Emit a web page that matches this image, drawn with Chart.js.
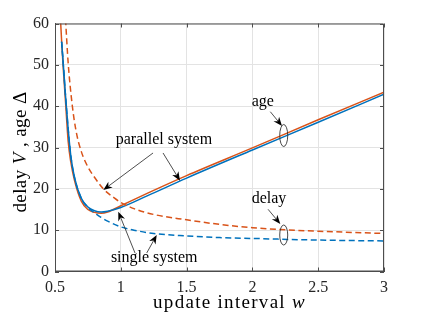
<!DOCTYPE html>
<html><head><meta charset="utf-8">
<script src="https://cdn.jsdelivr.net/npm/chart.js@4/dist/chart.umd.min.js"></script>
<style>html,body{margin:0;padding:0;background:#fff;}#wrap{width:424px;height:318px;}</style>
</head><body><div id="wrap"><canvas id="c" width="424" height="318"></canvas></div>
<script>
// ---- data ----
const xTicks = [0.5, 1, 1.5, 2, 2.5, 3];
const yTicks = [0, 10, 20, 30, 40, 50, 60];

const wAgeSingle = [0.55,0.56,0.58,0.60,0.62,0.65,0.70,0.75,0.80,0.85,0.90,1.00,1.20,1.50,2.00,2.50,3.00];
const ageSingle  = [55.6,51.5,42.5,34.5,28.0,22.5,17.7,15.6,14.7,14.4,14.6,15.5,18.3,22.6,29.4,36.1,42.9];

const wAgeParallel = [0.54,0.55,0.56,0.58,0.60,0.62,0.65,0.70,0.75,0.80,0.85,0.90,1.00,1.20,1.50,2.00,2.50,3.00];
const ageParallel  = [62.0,56.0,50.5,41.0,31.5,26.5,21.8,17.0,15.0,14.3,14.1,14.4,15.9,18.9,23.2,29.9,36.7,43.4];

const wDelaySingle = [0.55,0.56,0.58,0.60,0.62,0.65,0.70,0.75,0.80,0.85,0.90,1.00,1.10,1.25,1.50,1.75,2.00,2.50,3.00];
const delaySingle  = [55.6,51.5,42.5,34.5,28.0,22.5,17.7,15.5,14.2,13.1,12.2,10.8,10.0,9.2,8.6,8.2,8.0,7.6,7.4];

const wDelayParallel = [0.58,0.60,0.63,0.66,0.70,0.75,0.80,0.87,0.95,1.00,1.10,1.25,1.50,1.75,2.00,2.25,2.50,3.00];
const delayParallel  = [61.0,50.5,40.5,34.0,29.0,25.3,22.8,19.9,17.8,16.7,15.2,13.8,12.5,11.4,10.6,10.1,9.75,9.2];

// annotations (data coordinates)
const labels = [
  {text: 'parallel system', w: 1.328, v: 30.85},
  {text: 'single system',   w: 1.254, v: 2.2},
  {text: 'age',             w: 2.079, v: 40.0},
  {text: 'delay',           w: 2.126, v: 16.5}
];
const arrows = [
  {from: [1.245, 28.67], to: [0.867, 19.72]},
  {from: [1.321, 28.67], to: [1.450, 21.97]},
  {from: [1.108, 4.48],  to: [0.981, 14.47]},
  {from: [1.197, 4.48],  to: [1.273, 8.83]},
  {from: [2.136, 38.66], to: [2.225, 35.2]},
  {from: [2.119, 15.05], to: [2.212, 11.5]}
];
const ellipses = [
  {w: 2.238, v: 32.9, rx: 4, ry: 11},
  {w: 2.238, v: 8.83, rx: 4, ry: 10}
];

const BLUE = '#0072BD', ORANGE = '#D95319';
const FONT = "'Liberation Serif', 'Times New Roman', serif";
const AXIS = '#4d4d4d';

const pts = (xs, ys) => xs.map((x, i) => ({x, y: ys[i]}));

const ds = (data, color, dashed) => ({
  data, borderColor: color, borderWidth: 1.5, pointRadius: 0,
  cubicInterpolationMode: 'monotone', borderDash: dashed ? [6, 3.5] : [], fill: false
});

const decor = {
  id: 'decor',
  afterDatasetsDraw(chart) {
    const ctx = chart.ctx, xs = chart.scales.x, ys = chart.scales.y, a = chart.chartArea;
    ctx.save();
    // box and inner ticks
    ctx.strokeStyle = AXIS; ctx.lineWidth = 1;
    ctx.beginPath();
    ctx.rect(a.left + 0.5, a.top + 0.5, a.right - a.left - 1, a.bottom - a.top - 1);
    const tl = 4;
    xTicks.forEach(t => {
      const p = Math.round(xs.getPixelForValue(t)) + 0.5;
      ctx.moveTo(p, a.bottom); ctx.lineTo(p, a.bottom - tl);
      ctx.moveTo(p, a.top); ctx.lineTo(p, a.top + tl);
    });
    yTicks.forEach(t => {
      const p = Math.round(ys.getPixelForValue(t)) + 0.5;
      ctx.moveTo(a.left, p); ctx.lineTo(a.left + tl, p);
      ctx.moveTo(a.right, p); ctx.lineTo(a.right - tl, p);
    });
    ctx.stroke();

    // annotation labels
    ctx.fillStyle = '#000';
    ctx.font = '16px ' + FONT;
    ctx.textAlign = 'center'; ctx.textBaseline = 'alphabetic';
    labels.forEach(l => ctx.fillText(l.text, xs.getPixelForValue(l.w), ys.getPixelForValue(l.v)));

    // arrows
    arrows.forEach(ar => {
      const x1 = xs.getPixelForValue(ar.from[0]), y1 = ys.getPixelForValue(ar.from[1]);
      const x2 = xs.getPixelForValue(ar.to[0]), y2 = ys.getPixelForValue(ar.to[1]);
      const ang = Math.atan2(y2 - y1, x2 - x1);
      const hl = 9, hw = 3.6;
      ctx.strokeStyle = '#222'; ctx.lineWidth = 0.8;
      ctx.beginPath(); ctx.moveTo(x1, y1);
      ctx.lineTo(x2 - Math.cos(ang) * hl * 0.7, y2 - Math.sin(ang) * hl * 0.7); ctx.stroke();
      ctx.fillStyle = '#000';
      ctx.beginPath();
      ctx.moveTo(x2, y2);
      const bx = x2 - Math.cos(ang) * hl, by = y2 - Math.sin(ang) * hl;
      ctx.lineTo(bx + Math.sin(ang) * hw, by - Math.cos(ang) * hw);
      ctx.lineTo(x2 - Math.cos(ang) * hl * 0.7, y2 - Math.sin(ang) * hl * 0.7);
      ctx.lineTo(bx - Math.sin(ang) * hw, by + Math.cos(ang) * hw);
      ctx.closePath(); ctx.fill();
    });

    // ellipses
    ctx.strokeStyle = '#333'; ctx.lineWidth = 0.9;
    ellipses.forEach(e => {
      ctx.beginPath();
      ctx.ellipse(xs.getPixelForValue(e.w), ys.getPixelForValue(e.v), e.rx, e.ry, 0, 0, Math.PI * 2);
      ctx.stroke();
    });

    // axis titles (mixed upright / italic)
    const drawRuns = (runs, size, ls) => {
      ctx.letterSpacing = ls + 'px';
      let total = 0;
      runs.forEach(r => { ctx.font = (r.it ? 'italic ' : '') + size + 'px ' + FONT; r.wd = ctx.measureText(r.t).width; total += r.wd; });
      let x = -total / 2;
      ctx.textAlign = 'left';
      runs.forEach(r => { ctx.font = (r.it ? 'italic ' : '') + size + 'px ' + FONT; ctx.fillText(r.t, x, 0); x += r.wd; });
      ctx.letterSpacing = '0px';
    };
    ctx.fillStyle = '#000';
    ctx.save();
    ctx.translate((a.left + a.right) / 2 + 10, 308);
    drawRuns([{t: 'update interval '}, {t: 'w', it: true}], 19, 1.3);
    ctx.restore();
    ctx.save();
    ctx.translate(26, 152);
    ctx.rotate(-Math.PI / 2);
    drawRuns([{t: 'delay '}, {t: 'V', it: true}, {t: ' , age Δ'}], 19, 0.4);
    ctx.restore();
    ctx.restore();
  }
};

new Chart(document.getElementById('c'), {
  type: 'line',
  data: {
    datasets: [
      ds(pts(wDelayParallel, delayParallel), ORANGE, true),
      ds(pts(wDelaySingle, delaySingle), BLUE, true),
      ds(pts(wAgeSingle, ageSingle), BLUE, false),
      ds(pts(wAgeParallel, ageParallel), ORANGE, false)
    ]
  },
  options: {
    responsive: false, animation: false, devicePixelRatio: 1,
    layout: {padding: {top: 23.5, right: 40, left: 0, bottom: 0}},
    plugins: {legend: {display: false}, tooltip: {enabled: false}},
    scales: {
      x: {
        type: 'linear', min: 0.5, max: 3,
        afterBuildTicks: s => { s.ticks = xTicks.map(v => ({value: v})); },
        afterFit: s => { s.height = 46.5; },
        ticks: {font: {family: FONT, size: 16}, color: '#262626', padding: 7, maxRotation: 0,
                callback: v => String(v)},
        grid: {color: '#e3e3e3', drawTicks: false},
        border: {display: true, color: AXIS}
      },
      y: {
        type: 'linear', min: 0, max: 60,
        afterBuildTicks: s => { s.ticks = yTicks.map(v => ({value: v})); },
        afterFit: s => { s.width = 55; },
        ticks: {font: {family: FONT, size: 16}, color: '#262626', padding: 6,
                callback: v => String(v)},
        grid: {color: '#e3e3e3', drawTicks: false},
        border: {display: true, color: AXIS}
      }
    }
  },
  plugins: [decor]
});
</script>
</body></html>
